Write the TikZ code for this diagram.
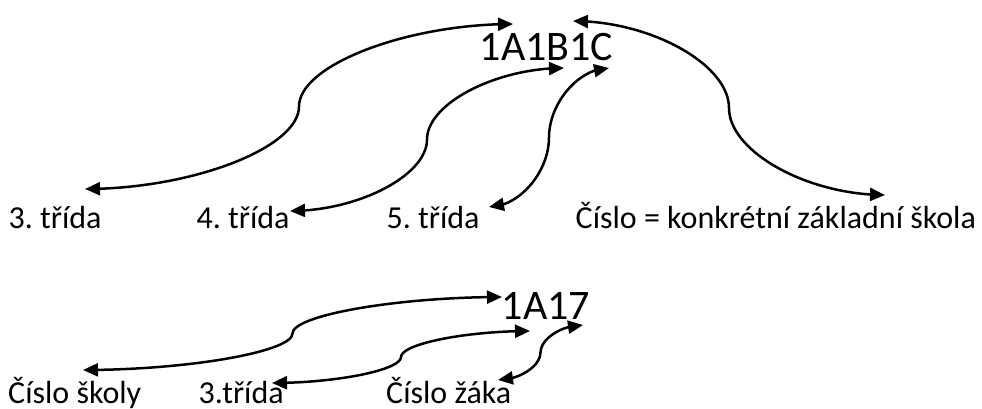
\documentclass[tikz,border=0pt]{standalone}
\usepackage{fontspec}
\setmainfont{Carlito}
\usepackage{tikz}
\usetikzlibrary{arrows.meta,bending,calc}
\frenchspacing

\tikzset{
  lbl/.style={anchor=base west,inner sep=0pt,font=\fontsize{32}{38}\selectfont},
  code/.style={anchor=base west,inner sep=0pt,font=\fontsize{42}{50}\selectfont},
  conn/.style={line width=2.5pt,>={Triangle[length=15pt,width=13pt]},<->},
  wcurve/.style={to path={let \p1=(\tikztostart), \p2=(\tikztotarget) in
    .. controls ({\x1+(\x2-\x1)/4},\y1) and ({(\x1+\x2)/2},{\y1+(\y2-\y1)/4})
    .. ({(\x1+\x2)/2},{(\y1+\y2)/2})
    .. controls ({(\x1+\x2)/2},{\y1+3*(\y2-\y1)/4}) and ({\x1+3*(\x2-\x1)/4},\y2)
    .. (\tikztotarget)}}
}

\begin{document}
\begin{tikzpicture}[x=1pt,y=-1pt]
\useasboundingbox (0,0) rectangle (982,409);

% Upper code
\node[code] (kod) at (479.5,61) {1A1B1C};
\node[lbl] (tr3) at (8.5,228) {3. třída};
\node[lbl] (tr4) at (196.5,228) {4. třída};
\node[lbl] (tr5) at (386.5,228) {5. třída};
\node[lbl] (skola) at (575.5,228) {Číslo = konkrétní základní škola};

% Lower code
\node[code] (kod2) at (501.5,319) {1A17};
\node[lbl] (cskoly) at (8,403.5) {Číslo školy};
\node[lbl] (trida) at (198.5,403.5) {3.třída};
\node[lbl] (zak) at (386,403.5) {Číslo žáka};

% Arrow ends
\coordinate (p3) at (85,189);  \coordinate (k3) at (513,24);
\coordinate (p4) at (290,211); \coordinate (k4) at (564,68);
\coordinate (p5) at (489,207); \coordinate (k5) at (609,68);
\coordinate (ks) at (573,21);  \coordinate (ps) at (885,195);
\coordinate (q1) at (83,370);  \coordinate (r1) at (502,297);
\coordinate (q2) at (272,383); \coordinate (r2) at (530,331);
\coordinate (q3) at (498,380); \coordinate (r3) at (583,325);

% Connectors
\draw[conn] (p3) to[wcurve] (k3);
\draw[conn] (p4) to[wcurve] (k4);
\draw[conn] (p5) to[wcurve] (k5);
\draw[conn] (ks) to[wcurve] (ps);
\draw[conn] (q1) to[wcurve] (r1);
\draw[conn] (q2) to[wcurve] (r2);
\draw[conn] (q3) to[wcurve] (r3);

\end{tikzpicture}
\end{document}
